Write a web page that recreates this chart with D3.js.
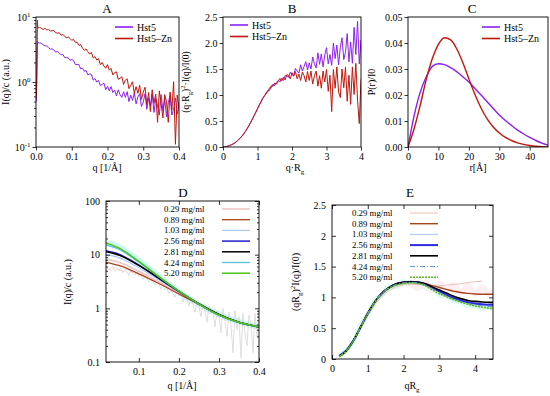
<!DOCTYPE html>
<html>
<head>
<meta charset="utf-8">
<script src="https://cdn.jsdelivr.net/npm/d3@7"></script>
<style>
body { margin: 0; background: #fff; }
</style>
</head>
<body>
<svg id="chart" width="550" height="396" font-family="Liberation Serif, Times New Roman, DejaVu Serif, serif"></svg>
<script>
// ---- panel A : I(q)/c vs q
const qA = [0.001,0.002,0.003,0.004,0.005,0.01,0.015,0.02,0.025,0.03,0.035,0.04,0.045,0.05,0.055,0.06,0.065,0.07,0.075,0.08,0.085,0.09,0.095,0.1,0.105,0.11,0.115,0.12,0.125,0.13,0.135,0.14,0.145,0.15,0.155,0.16,0.165,0.17,0.175,0.18,0.185,0.19,0.195,0.2,0.205,0.21,0.215,0.22,0.225,0.23,0.235,0.24,0.245,0.25,0.255,0.26,0.265,0.27,0.275,0.28,0.285,0.29,0.295,0.3,0.305,0.31,0.315,0.32,0.325,0.33,0.335,0.34,0.345,0.35,0.355,0.36,0.365,0.37,0.375,0.38,0.385,0.39,0.395,0.4];
const hst5A = [0.5,0.9,2.0,4.2, 4.04,3.96,3.98,3.72,3.61,3.57,3.38,3.2,3.23,3.11, 2.88,2.96,2.79,2.61,2.66,2.39,2.36,2.37,2.15,2.22, 2.14,1.86,1.86,1.85,1.59,1.63,1.46,1.51,1.29,1.33, 1.31,1.07,1.13,1.0,1.06,0.88,0.92,0.96,0.76,0.86, 0.73,0.85,0.69,0.75,0.61,0.76,0.64,0.58,0.71,0.58, 0.71,0.5,0.63,0.52,0.68,0.46,0.59,0.66,0.42,0.49, 0.66,0.38,0.57,0.43,0.65,0.34,0.56,0.43,0.31,0.64, 0.36,0.56,0.29,0.48,0.62,0.31,0.38,0.57,0.32,0.44];
const hst5ZnA = [0.6,1.2,3.0,9.0, 6.76,6.94,6.7,6.4,6.7,6.34,6.43,6.08,6.16,6.18, 5.73,5.64,5.72,5.24,5.36,5.1,4.75,4.94,4.7,4.37, 4.52,4.07,4.08,3.65,3.78,3.33,3.06,3.23,2.92,2.69, 2.84,2.35,2.45,2.18,2.29,1.84,2.0,1.76,1.63,1.85, 1.52,1.62,1.28,1.4,1.43,1.1,1.14,1.21,0.92,1.07, 1.12,0.79,0.88,1.01,0.67,0.85,0.67,0.89,0.54,0.7, 0.83,0.45,0.69,0.35,0.76,0.47,0.65,0.24,0.73,0.46, 0.28,0.64,0.5,0.24,0.7,0.37,1.01,0.11,0.63,0.38];

// ---- panel B : Kratky plot
const qRgB = [0,0.05,0.1,0.15,0.2,0.25,0.3,0.35,0.4,0.45,0.5,0.55,0.6,0.65,0.7,0.75,0.8,0.85,0.9,0.95,1,1.05,1.1,1.15,1.2,1.25,1.3,1.35,1.4,1.45,1.5,1.55,1.6,1.65,1.7,1.75,1.8,1.85,1.9,1.95,2,2.05,2.1,2.15,2.2,2.25,2.3,2.35,2.4,2.45,2.5,2.55,2.6,2.65,2.7,2.75,2.8,2.85,2.9,2.95,3,3.05,3.1,3.15,3.2,3.25,3.3,3.35,3.4,3.45,3.5,3.55,3.6,3.65,3.7,3.75,3.8,3.85,3.9,3.95,4];
const hst5B = [0,0.003,0.01,0.018,0.03,0.044,0.06,0.083,0.11,0.14, 0.17,0.21,0.25,0.3,0.35,0.41,0.47,0.535,0.6,0.665, 0.73,0.8,0.86,0.93,0.97, 1.05,1.06,1.14,1.14,1.21, 1.18,1.24,1.28,1.25,1.32, 1.28,1.37,1.37,1.34,1.44, 1.39,1.38,1.51,1.46,1.42, 1.58,1.46,1.55,1.64,1.48, 1.62,1.5,1.73,1.6,1.52, 1.81,1.59,1.79,1.54,1.77, 1.91,1.6,1.78,1.57,2.0, 1.7,1.96,1.58,1.91,2.1, 1.68,1.82,2.18,1.64,2.02, 1.61,2.3,1.78,2.42,1.6, 2.06];
const hst5ZnB = [0,0.003,0.01,0.019,0.03,0.045,0.062,0.085,0.11,0.14, 0.175,0.21,0.255,0.3,0.355,0.41,0.47,0.535,0.6,0.67, 0.74,0.81,0.87,0.94,0.99, 1.02,1.09,1.09,1.18,1.17, 1.23,1.21,1.27,1.32,1.27, 1.34,1.29,1.39,1.38,1.31, 1.43,1.36,1.45,1.31,1.4, 1.28,1.44,1.37,1.25,1.45, 1.28,1.46,1.21,1.37,1.46, 1.17,1.37,1.13,1.46,1.25, 1.49,1.07,1.38,0.68,1.49, 1.13,1.54,1.06,0.95,1.5, 1.14,1.54,0.88,1.38,0.82, 1.54,1.01,1.61,0.9,0.45, 1.3];

// ---- panel C : pair distance distribution
const rC = [0,2,4,6,8,10,12,14,16,18,20,22,24,26,28,30,32,34,36,38,40,42,44,46];
const hst5C = [0,0.012,0.021,0.027,0.031,0.032,0.0317,0.0305,0.029,0.027,0.025,0.0225,0.02,0.0174,0.0148,0.0123,0.0102,0.0083,0.0065,0.005,0.0037,0.0025,0.0015,0.0007];
const hst5ZnC = [0,0.007,0.016,0.026,0.034,0.0395,0.042,0.0412,0.0378,0.0325,0.0262,0.0202,0.015,0.0108,0.0077,0.0054,0.0037,0.0025,0.0016,0.001,0.0006,0.0003,0.0001,0];

// ---- panel D : concentration series, fits + raw
const concLabels = ['0.29 mg/ml','0.89 mg/ml','1.03 mg/ml','2.56 mg/ml','2.81 mg/ml','4.24 mg/ml','5.20 mg/ml'];
const qD = [0.018,0.05,0.1,0.15,0.2,0.25,0.3,0.35,0.4];
const d029 = [8.3,7.2,4.9,3.1,1.95,1.22,0.78,0.56,0.46];
const d089 = [7.2,6.3,4.4,2.9,1.85,1.18,0.76,0.55,0.45];
const d103 = [10,8.8,5.7,3.4,2.05,1.22,0.77,0.55,0.45];
const d256 = [11.8,10.2,6.4,3.6,2.05,1.2,0.75,0.55,0.45];
const d281 = [11.3,9.8,6.3,3.65,2.1,1.22,0.77,0.55,0.45];
const d424 = [15.2,12.6,7.3,3.85,2.1,1.2,0.75,0.55,0.45];
const d520 = [16.6,13.4,7.5,3.9,2.1,1.2,0.75,0.55,0.45];
const qDraw = [0.02,0.025,0.03,0.035,0.04,0.045,0.05,0.055,0.06,0.065,0.07,0.075,0.08,0.085,0.09,0.095,0.1,0.105,0.11,0.115,0.12,0.125,0.13,0.135,0.14,0.145,0.15,0.155,0.16,0.165,0.17,0.175,0.18,0.185,0.19,0.195,0.2,0.205,0.21,0.215,0.22,0.225,0.23,0.235,0.24,0.245,0.25,0.255,0.26,0.265,0.27,0.275,0.28,0.285,0.29,0.295,0.3,0.305,0.31,0.315,0.32,0.325,0.33,0.335,0.34,0.345,0.35,0.355,0.36,0.365,0.37,0.375,0.38,0.385,0.39,0.395,0.4];
const rawGreyD = [5.9,5.2,5.5,6.1,4.9,5.4,5.0,5.7,4.6,5.1, 4.8,4.1,5.0,4.5,4.2,4.7,3.9,4.3,3.5,3.9, 3.6,3.1,3.5,3.2,2.7,3.0,2.9,2.3,2.7,2.2, 2.4,1.9,2.2,1.9,1.6,2.1,1.7,1.9,1.3,1.7, 1.5,1.1,1.6,1.2,0.85,1.3,1.1,0.7,1.2,0.9, 0.55,1.1,0.8,0.95,0.45,0.9,0.75,0.35,1.0,0.6, 0.3,0.85,0.5,0.15,0.9,0.4,0.7,0.12,0.8,0.35, 0.2,0.75,0.5,0.15,0.8,0.3,0.55];
const qDpink = [0.02,0.03,0.04,0.05,0.06,0.07,0.08,0.09,0.1,0.11,0.12,0.13,0.14,0.15,0.16,0.17,0.18,0.19,0.2];
const rawPinkD = [5.6,5.0,5.9,5.3,4.8,5.5,4.9,4.3,5.0,4.1,4.5,3.8,3.3,3.5,2.8,2.9,2.3,2.4,1.9];
const qDcyan = [0.02,0.04,0.06,0.08,0.1,0.12,0.14,0.16,0.18,0.2,0.22,0.24,0.26,0.28,0.3,0.32,0.34,0.36,0.38,0.4];
const rawCyanD = [16.5,15.2,12.8,10.0,7.9,5.9,4.5,3.4,2.6,2.05,1.6,1.3,1.08,0.9,0.78,0.66,0.6,0.53,0.49,0.45];

// ---- panel E : normalised Kratky, concentration series
const xE = [0.2,0.4,0.6,0.8,1.0,1.2,1.4,1.6,1.8,2.0,2.2,2.4,2.6,2.8,3.0,3.2,3.4,3.6,3.8,4.0,4.2,4.4,4.5];
const e029 = [0.04,0.12,0.28,0.49,0.7,0.88,1.02,1.11,1.17,1.2,1.21, 1.21,1.2,1.19,1.19,1.2,1.21,1.22,1.24,1.255,1.265,null,null];
const e089 = [0.04,0.13,0.3,0.52,0.74,0.93,1.07,1.16,1.22,1.245,1.255, 1.25,1.225,1.19,1.16,1.13,1.1,1.08,1.065,1.055,1.05,1.05,1.05];
const e103 = [0.04,0.13,0.29,0.51,0.72,0.91,1.05,1.14,1.2,1.225,1.235, 1.225,1.2,1.16,1.11,1.06,1.0,0.96,0.92,0.89,0.87,0.86,0.86];
const e256 = [0.05,0.14,0.3,0.52,0.74,0.93,1.07,1.16,1.22,1.245,1.255, 1.245,1.215,1.16,1.1,1.04,0.99,0.95,0.92,0.9,0.89,0.88,0.88];
const e281 = [0.04,0.13,0.3,0.52,0.74,0.93,1.07,1.16,1.22,1.245,1.255, 1.245,1.22,1.17,1.12,1.07,1.02,0.98,0.95,0.935,0.925,0.92,0.92];
const e424 = [0.04,0.13,0.3,0.52,0.74,0.93,1.07,1.16,1.21,1.235,1.245, 1.235,1.2,1.14,1.08,1.02,0.97,0.93,0.9,0.875,0.86,0.855,0.85];
const e520 = [0.04,0.13,0.3,0.52,0.73,0.92,1.06,1.15,1.2,1.225,1.235, 1.225,1.19,1.12,1.06,1.01,0.96,0.92,0.89,0.86,0.84,0.825,0.82];
const xEpink = [2.2,2.4,2.6,2.8,3.0,3.2,3.4,3.6,3.8,4.0,4.2,4.4,4.5];
const rawPinkE = [1.22,1.15,1.24,1.12,1.22,1.1,1.2,1.08,1.18,1.06,1.16,1.05,1.1];
const rawCyanE = [0.05,0.16,0.28,0.55,0.72,0.95,1.04,1.18,1.17,1.26,1.2,1.24,1.16,1.14,1.04,1.02,0.94,0.93,0.86,0.87,0.82,0.84,0.8];

// styles
const FONT = '"Liberation Serif", "Times New Roman", "DejaVu Serif", serif';
const purple = '#8c1ff0', red = '#c0170b';
const colD = ['#ecc4c4','#a8441c','#a9c8f4','#2020c8','#000000','#56c2d8','#4cc21a'];
const widD = [1.5,1.3,1.2,1.5,1.5,1.3,1.5];
const colE = ['#eec0b8','#a8441c','#a9c8f4','#2c2ce0','#000000','#6a96e0','#5cb820'];
const widE = [1,1.4,1,2,1.6,1.2,1.6];
const dashE = [null,null,null,null,null,'5,2,1,2','2,1'];

const svg = d3.select('#chart');
const defs = svg.append('defs');
let clipN = 0;

function tidy(sel, fs) {
    sel.attr('font-family', null).attr('font-size', fs);
    sel.select('.domain').remove();
    sel.selectAll('.tick line').attr('stroke', '#000').attr('stroke-width', 0.8);
    sel.selectAll('.tick text').attr('fill', '#000');
}

function frame(g, x, y) {
    const [x0, x1] = x.range(), [y0, y1] = y.range();
    g.append('rect').attr('x', x0).attr('y', y1).attr('width', x1 - x0).attr('height', y0 - y1)
        .attr('fill', 'none').attr('stroke', '#000').attr('stroke-width', 0.9);
}

function clipFor(g, x, y) {
    const id = 'clip' + (clipN++);
    const [x0, x1] = x.range(), [y0, y1] = y.range();
    defs.append('clipPath').attr('id', id).append('rect')
        .attr('x', x0).attr('y', y1).attr('width', x1 - x0).attr('height', y0 - y1);
    return g.append('g').attr('clip-path', `url(#${id})`);
}

function series(g, x, y, xs, ys, color, width, curve, dash) {
    const line = d3.line()
        .defined(d => d != null)
        .x((d, i) => x(xs[i]))
        .y(d => y(d))
        .curve(curve || d3.curveLinear);
    g.append('path').datum(ys).attr('d', line).attr('fill', 'none')
        .attr('stroke', color).attr('stroke-width', width)
        .attr('stroke-dasharray', dash || null).attr('stroke-linejoin', 'round');
}

// rich text: parts [[text, 'n'|'sub'|'sup']]
function rich(t, parts, fs) {
    let cur = 0;
    parts.forEach(([s, k]) => {
        const target = k === 'sub' ? fs * 0.3 : k === 'sup' ? -fs * 0.4 : 0;
        t.append('tspan').attr('dy', target - cur).attr('font-size', k === 'n' ? fs : fs * 0.7).text(s);
        cur = target;
    });
}

function ylabel(x, y, parts, fs) {
    const t = svg.append('text').attr('transform', `translate(${x},${y}) rotate(-90)`)
        .attr('text-anchor', 'middle').attr('font-size', fs);
    rich(t, parts, fs);
}
function xlabel(x, y, parts, fs) {
    const t = svg.append('text').attr('x', x).attr('y', y).attr('text-anchor', 'middle').attr('font-size', fs);
    rich(t, parts, fs);
}
function title(x, y, s) {
    svg.append('text').attr('x', x).attr('y', y).attr('text-anchor', 'middle').attr('font-size', 13).text(s);
}

function legend2(x0, y0, names, colors) {
    names.forEach((n, i) => {
        const yy = y0 + i * 11.5;
        svg.append('line').attr('x1', x0).attr('x2', x0 + 18).attr('y1', yy).attr('y2', yy)
            .attr('stroke', colors[i]).attr('stroke-width', 1.6);
        svg.append('text').attr('x', x0 + 22).attr('y', yy + 3.5).attr('font-size', 10).text(n);
    });
}

// ================= A
const xA = d3.scaleLinear().domain([0, 0.4]).range([36, 179]);
const yA = d3.scaleLog().domain([0.1, 10]).range([147, 17]);
{
    const g = svg.append('g');
    const c = clipFor(g, xA, yA);
    series(c, xA, yA, qA, hst5A, purple, 1);
    series(c, xA, yA, qA, hst5ZnA, red, 1);
    g.append('g').attr('transform', 'translate(0,147)')
        .call(d3.axisBottom(xA).tickValues([0, 0.1, 0.2, 0.3, 0.4]).tickFormat(d3.format('.1f')).tickSize(3.5).tickSizeOuter(0).tickPadding(2))
        .call(tidy, 10);
    const minors = [];
    [0.1, 1].forEach(b => { for (let k = 2; k <= 9; k++) minors.push(b * k); });
    g.append('g').attr('transform', 'translate(36,0)')
        .call(d3.axisLeft(yA).tickValues(minors).tickFormat('').tickSize(2).tickSizeOuter(0))
        .call(tidy, 10);
    const ay = g.append('g').attr('transform', 'translate(36,0)')
        .call(d3.axisLeft(yA).tickValues([0.1, 1, 10]).tickSize(3.5).tickSizeOuter(0).tickPadding(2))
        .call(tidy, 10);
    ay.selectAll('.tick text').each(function(d) {
        const t = d3.select(this).text(null);
        t.append('tspan').text('10');
        t.append('tspan').attr('dy', -4).attr('font-size', 7).text(String(Math.round(Math.log10(d))));
    });
    frame(g, xA, yA);
    legend2(115, 27, ['Hst5', 'Hst5\u2013Zn'], [purple, red]);
    title(107, 13, 'A');
    ylabel(9, 82, [['I(q)/c (a.u.)', 'n']], 10);
    xlabel(107, 171, [['q [1/\u00C5]', 'n']], 10);
}

// ================= B
const xB = d3.scaleLinear().domain([0, 4]).range([223, 361]);
const yB = d3.scaleLinear().domain([0, 2.5]).range([147, 17]);
{
    const g = svg.append('g');
    const c = clipFor(g, xB, yB);
    series(c, xB, yB, qRgB, hst5B, purple, 1);
    series(c, xB, yB, qRgB, hst5ZnB, red, 1);
    g.append('g').attr('transform', 'translate(0,147)')
        .call(d3.axisBottom(xB).ticks(4).tickFormat(d3.format('d')).tickSize(3.5).tickSizeOuter(0).tickPadding(2))
        .call(tidy, 10);
    g.append('g').attr('transform', 'translate(223,0)')
        .call(d3.axisLeft(yB).tickValues([0, 0.5, 1, 1.5, 2, 2.5]).tickFormat(d3.format('.1f')).tickSize(3.5).tickSizeOuter(0).tickPadding(2))
        .call(tidy, 10);
    frame(g, xB, yB);
    legend2(230, 25, ['Hst5', 'Hst5\u2013Zn'], [purple, red]);
    title(292, 13, 'B');
    ylabel(189, 82, [['(q\u00B7R', 'n'], ['g', 'sub'], [')', 'n'], ['2', 'sup'], ['\u00B7I(q)/I(0)', 'n']], 9.5);
    xlabel(295, 171, [['q\u00B7R', 'n'], ['g', 'sub']], 10);
}

// ================= C
const xC = d3.scaleLinear().domain([0, 46]).range([408, 548]);
const yC = d3.scaleLinear().domain([0, 0.05]).range([147, 17]);
{
    const g = svg.append('g');
    const c = clipFor(g, xC, yC);
    series(c, xC, yC, rC, hst5C, purple, 1.4, d3.curveMonotoneX);
    series(c, xC, yC, rC, hst5ZnC, red, 1.4, d3.curveMonotoneX);
    g.append('g').attr('transform', 'translate(0,147)')
        .call(d3.axisBottom(xC).tickValues([0, 10, 20, 30, 40]).tickSize(3.5).tickSizeOuter(0).tickPadding(2))
        .call(tidy, 10);
    g.append('g').attr('transform', 'translate(408,0)')
        .call(d3.axisLeft(yC).tickValues([0, 0.01, 0.02, 0.03, 0.04, 0.05]).tickFormat(d3.format('.2f')).tickSize(3.5).tickSizeOuter(0).tickPadding(2))
        .call(tidy, 10);
    frame(g, xC, yC);
    legend2(482, 27, ['Hst5', 'Hst5\u2013Zn'], [purple, red]);
    title(472, 13, 'C');
    ylabel(375, 82, [['P(r)/I0', 'n']], 10);
    xlabel(478, 171, [['r[\u00C5]', 'n']], 10);
}

// gnuplot-style inward ticks on all four sides
function gnuAxes(g, x, y, xt, yt, xf, yf, yminor) {
    const [x0, x1] = x.range(), [y0, y1] = y.range();
    g.append('g').attr('transform', `translate(0,${y0})`)
        .call(d3.axisBottom(x).tickValues(xt).tickFormat(xf).tickSize(-4).tickSizeOuter(0).tickPadding(6)).call(tidy, 10);
    g.append('g').attr('transform', `translate(0,${y1})`)
        .call(d3.axisTop(x).tickValues(xt).tickFormat('').tickSize(-4).tickSizeOuter(0)).call(tidy, 10);
    g.append('g').attr('transform', `translate(${x0},0)`)
        .call(d3.axisLeft(y).tickValues(yt).tickFormat(yf).tickSize(-4).tickSizeOuter(0).tickPadding(6)).call(tidy, 10);
    g.append('g').attr('transform', `translate(${x1},0)`)
        .call(d3.axisRight(y).tickValues(yt).tickFormat('').tickSize(-4).tickSizeOuter(0)).call(tidy, 10);
    if (yminor) {
        g.append('g').attr('transform', `translate(${x0},0)`)
            .call(d3.axisLeft(y).tickValues(yminor).tickFormat('').tickSize(-2).tickSizeOuter(0)).call(tidy, 10);
        g.append('g').attr('transform', `translate(${x1},0)`)
            .call(d3.axisRight(y).tickValues(yminor).tickFormat('').tickSize(-2).tickSizeOuter(0)).call(tidy, 10);
    }
    frame(g, x, y);
}

function legendConc(xText, xLine, y0, styles) {
    concLabels.forEach((n, i) => {
        const yy = y0 + i * 10.7;
        svg.append('text').attr('x', xText).attr('y', yy + 3).attr('font-size', 8.8).text(n);
        svg.append('line').attr('x1', xLine).attr('x2', xLine + 28).attr('y1', yy).attr('y2', yy)
            .attr('stroke', styles.col[i]).attr('stroke-width', styles.wid[i])
            .attr('stroke-dasharray', styles.dash ? styles.dash[i] : null);
    });
}

// ================= D
const xD = d3.scaleLinear().domain([0.018, 0.4]).range([106, 259]);
const yD = d3.scaleLog().domain([0.1, 100]).range([362, 201]);
{
    const g = svg.append('g');
    const c = clipFor(g, xD, yD);
    series(c, xD, yD, qDcyan, rawCyanD, '#cdf7f2', 6);
    series(c, xD, yD, qDraw, rawGreyD, '#d6d6d6', 0.8);
    series(c, xD, yD, qDpink, rawPinkD, '#f7ccd2', 0.9);
    [d029, d089, d103, d256, d281, d424, d520].forEach((s, i) =>
        series(c, xD, yD, qD, s, colD[i], widD[i], d3.curveMonotoneX));
    const minors = [];
    [0.1, 1, 10].forEach(b => { for (let k = 2; k <= 9; k++) minors.push(b * k); });
    gnuAxes(g, xD, yD, [0.1, 0.2, 0.3, 0.4], [0.1, 1, 10, 100], d3.format('.1f'), d => String(d), minors);
    legendConc(164, 222, 209, { col: colD, wid: widD });
    title(183, 197, 'D');
    ylabel(71, 282, [['I(q)/c (a.u.)', 'n']], 10);
    xlabel(182, 389, [['q [1/\u00C5]', 'n']], 10);
}

// ================= E
const xEs = d3.scaleLinear().domain([0, 4.5]).range([332, 493]);
const yEs = d3.scaleLinear().domain([0, 2.5]).range([359, 205]);
{
    const g = svg.append('g');
    const c = clipFor(g, xEs, yEs);
    series(c, xEs, yEs, xE, rawCyanE, '#ddfbf1', 5, d3.curveMonotoneX);
    series(c, xEs, yEs, xEpink, rawPinkE, '#fdeef3', 6, d3.curveMonotoneX);
    [e029, e089, e103, e256, e281, e424, e520].forEach((s, i) =>
        series(c, xEs, yEs, xE, s, colE[i], widE[i], d3.curveMonotoneX, dashE[i]));
    gnuAxes(g, xEs, yEs, [0, 1, 2, 3, 4], [0, 0.5, 1, 1.5, 2, 2.5], d3.format('d'), d => String(d));
    legendConc(352, 410, 213, { col: colE, wid: widE, dash: dashE });
    title(410, 197, 'E');
    ylabel(299, 282, [['(qR', 'n'], ['g', 'sub'], [')', 'n'], ['2', 'sup'], ['I(q)/I(0)', 'n']], 10);
    xlabel(412, 389, [['qR', 'n'], ['g', 'sub']], 10);
}

// serif everywhere
svg.selectAll('text').style('font-family', FONT).style('fill', '#000');
</script>
</body>
</html>
